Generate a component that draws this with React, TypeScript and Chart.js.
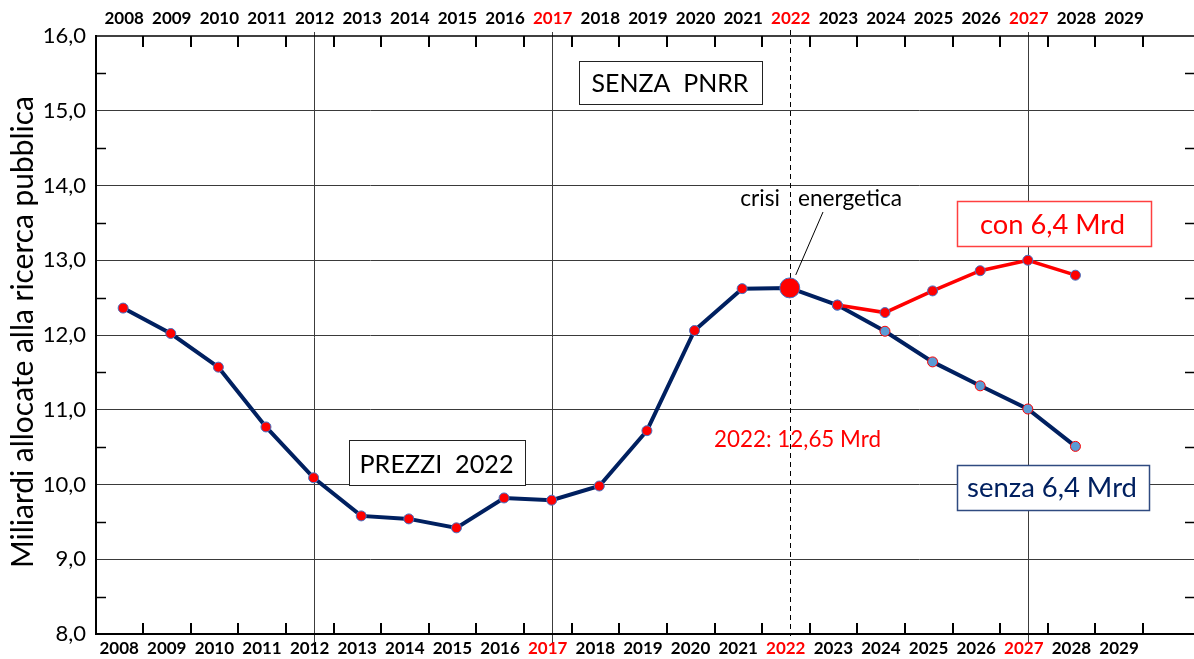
import React, { useEffect, useRef } from 'react';
import { Chart, registerables } from 'chart.js';

Chart.register(...registerables);

// ---------- data ----------
const YEARS = [2008, 2009, 2010, 2011, 2012, 2013, 2014, 2015, 2016, 2017, 2018, 2019, 2020, 2021, 2022, 2023, 2024, 2025, 2026, 2027, 2028];
const SENZA_6_4 = [12.36, 12.02, 11.57, 10.77, 10.09, 9.58, 9.54, 9.42, 9.82, 9.79, 9.98, 10.72, 12.06, 12.62, 12.63, 12.40, 12.05, 11.64, 11.32, 11.01, 10.51];
const CON_YEARS = [2023, 2024, 2025, 2026, 2027, 2028];
const CON_6_4 = [12.40, 12.30, 12.59, 12.86, 13.00, 12.80];
const AXIS_YEARS = [2008, 2009, 2010, 2011, 2012, 2013, 2014, 2015, 2016, 2017, 2018, 2019, 2020, 2021, 2022, 2023, 2024, 2025, 2026, 2027, 2028, 2029];
const RED_LABEL_YEARS = [2017, 2022, 2027];
const SOLID_LINE_YEARS = [2012, 2017, 2027];
const DASHED_LINE_YEAR = 2022;
const CRISIS_YEAR = 2022;
const PROJECTION_START = 2024;
const Y_MIN = 8;
const Y_MAX = 16;
const Y_TITLE = 'Miliardi allocate alla ricerca pubblica';

// ---------- style ----------
const NAVY = '#002060';
const RED = '#FF0000';
const MARKER_BLUE = '#4472C4';
const LIGHT_BLUE = '#5B9BD5';
const FONT = 'Lato, "Open Sans", sans-serif';
const X_MIN = 2007.43;
const X_MAX = 2030.49;

const BOXES = [
  { text: 'SENZA  PNRR', x0: 579, y0: 61, x1: 762, y1: 104, cx: 670, tw: 157, base: 91.5, color: '#000', border: '#222', bw: 1 },
  { text: 'PREZZI  2022', x0: 349, y0: 440, x1: 525, y1: 485, cx: 436.5, tw: 154, base: 472.5, color: '#000', border: '#222', bw: 1 },
  { text: 'con 6,4 Mrd', x0: 957, y0: 201, x1: 1151, y1: 246, cx: 1052.5, tw: 145, base: 233.5, color: RED, border: '#FF4040', bw: 1.5 },
  { text: 'senza 6,4 Mrd', x0: 957, y0: 465, x1: 1149, y1: 510, cx: 1052, tw: 170, base: 497, color: NAVY, border: '#2F4A80', bw: 1.5 },
];

function fitSize(ctx: CanvasRenderingContext2D, text: string, width: number, weight = 'normal') {
  ctx.font = `${weight} 100px ${FONT}`;
  return (100 * width) / ctx.measureText(text).width;
}

const tickColor = (c: any) => (RED_LABEL_YEARS.includes(c.tick?.value) ? RED : '#000');

const decor = {
  id: 'decor',
  beforeDatasetsDraw(chart: any) {
    const { ctx, chartArea: a, scales } = chart;
    const x = scales.x;
    const y = scales.y;
    const line = (x0: number, y0: number, x1: number, y1: number) => {
      ctx.beginPath();
      ctx.moveTo(x0, y0);
      ctx.lineTo(x1, y1);
      ctx.stroke();
    };
    ctx.save();
    // vertical reference lines
    ctx.strokeStyle = '#3c3c3c';
    ctx.lineWidth = 1;
    SOLID_LINE_YEARS.forEach((yr) => {
      const px = Math.round(x.getPixelForValue(yr)) + 0.5;
      line(px, a.top - 4, px, a.bottom + 9);
    });
    ctx.strokeStyle = '#000';
    ctx.setLineDash([5, 4]);
    const dx = Math.round(x.getPixelForValue(DASHED_LINE_YEAR)) + 0.5;
    line(dx, a.top - 6, dx, a.bottom + 2);
    ctx.setLineDash([]);
    // minor ticks on left / right at half units
    ctx.strokeStyle = '#000';
    ctx.lineWidth = 1.5;
    for (let v = Y_MIN + 0.5; v < Y_MAX; v += 1) {
      const py = Math.round(y.getPixelForValue(v)) + 0.5;
      line(a.left, py, a.left + 10, py);
      line(a.right - 9, py, a.right, py);
    }
    // category ticks on top / bottom
    ctx.lineWidth = 2;
    AXIS_YEARS.forEach((yr) => {
      const px = Math.round(x.getPixelForValue(yr + 0.42));
      line(px, a.top, px, a.top + 11);
      line(px, a.bottom - 11, px, a.bottom);
    });
    // frame
    ctx.lineWidth = 2;
    line(a.left, a.top - 1, a.left, a.bottom + 1);
    line(a.left - 1, a.bottom, a.right, a.bottom);
    ctx.lineWidth = 1.5;
    line(a.left - 1, a.top, a.right, a.top);
    ctx.restore();
  },
  afterDatasetsDraw(chart: any) {
    const { ctx, scales } = chart;
    const x = scales.x;
    const y = scales.y;
    ctx.save();
    // boxes
    BOXES.forEach((b) => {
      ctx.fillStyle = '#fff';
      ctx.fillRect(b.x0, b.y0, b.x1 - b.x0, b.y1 - b.y0);
      ctx.strokeStyle = b.border;
      ctx.lineWidth = b.bw;
      ctx.strokeRect(b.x0 + 0.5, b.y0 + 0.5, b.x1 - b.x0, b.y1 - b.y0);
      const size = fitSize(ctx, b.text, b.tw);
      ctx.font = `normal ${size}px ${FONT}`;
      ctx.fillStyle = b.color;
      ctx.textAlign = 'center';
      ctx.textBaseline = 'alphabetic';
      ctx.fillText(b.text, b.cx, b.base);
    });
    // crisis label
    const size = fitSize(ctx, 'energetica', 104);
    ctx.font = `normal ${size}px ${FONT}`;
    ctx.fillStyle = '#000';
    ctx.textBaseline = 'alphabetic';
    ctx.textAlign = 'right';
    ctx.fillText('crisi', 780, 206);
    ctx.textAlign = 'left';
    ctx.fillText('energetica', 798, 206);
    // leader line
    const px = x.getPixelForValue(CRISIS_YEAR);
    const py = y.getPixelForValue(SENZA_6_4[YEARS.indexOf(CRISIS_YEAR)]);
    ctx.strokeStyle = '#000';
    ctx.lineWidth = 1;
    ctx.beginPath();
    ctx.moveTo(823, 212);
    ctx.lineTo(px + 6, py - 13);
    ctx.stroke();
    // value label
    const vs = fitSize(ctx, '2022: 12,65 Mrd', 167);
    ctx.font = `normal ${vs}px ${FONT}`;
    ctx.fillStyle = RED;
    ctx.textAlign = 'center';
    ctx.fillText('2022: 12,65 Mrd', 797.5, 446.5);
    // y title
    const ts = fitSize(ctx, Y_TITLE, 472);
    ctx.font = `normal ${ts}px ${FONT}`;
    ctx.fillStyle = '#000';
    ctx.translate(33, 332);
    ctx.rotate(-Math.PI / 2);
    ctx.textAlign = 'center';
    ctx.textBaseline = 'alphabetic';
    ctx.fillText(Y_TITLE, 0, 0);
    ctx.restore();
  },
};

export default function App() {
  const ref = useRef<HTMLCanvasElement>(null);
  useEffect(() => {
    const canvas = ref.current!;
    const chart = new Chart(canvas, {
      type: 'line',
      data: {
        datasets: [
          {
            label: 'con 6,4 Mrd',
            data: CON_YEARS.map((yr, i) => ({ x: yr, y: CON_6_4[i] })),
            borderColor: RED,
            borderWidth: 3.5,
            tension: 0,
            pointRadius: 5,
            pointBackgroundColor: RED,
            pointBorderColor: MARKER_BLUE,
            pointBorderWidth: 1,
            order: 1,
          },
          {
            label: 'senza 6,4 Mrd',
            data: YEARS.map((yr, i) => ({ x: yr, y: SENZA_6_4[i] })),
            borderColor: NAVY,
            borderWidth: 4,
            tension: 0,
            pointRadius: (c: any) => (YEARS[c.dataIndex] === CRISIS_YEAR ? 10 : 5),
            pointBackgroundColor: (c: any) => (YEARS[c.dataIndex] >= PROJECTION_START ? LIGHT_BLUE : RED),
            pointBorderColor: (c: any) => (YEARS[c.dataIndex] >= PROJECTION_START ? RED : MARKER_BLUE),
            pointBorderWidth: 1,
            order: 2,
          },
        ],
      },
      options: {
        responsive: false,
        animation: false,
        devicePixelRatio: 1,
        layout: { padding: 0 },
        plugins: { legend: { display: false }, tooltip: { enabled: false } },
        scales: {
          x: {
            type: 'linear',
            position: 'bottom',
            min: X_MIN,
            max: X_MAX,
            afterBuildTicks: (s: any) => {
              s.ticks = AXIS_YEARS.map((v) => ({ value: v }));
            },
            afterFit: (s: any) => {
              s.height = 25;
            },
            grid: { display: false, drawTicks: false },
            border: { display: false },
            ticks: {
              autoSkip: false,
              maxRotation: 0,
              minRotation: 0,
              padding: 4,
              labelOffset: -4,
              color: tickColor,
              font: { family: FONT, size: 17, weight: 'bold' },
              callback: (v: any) => String(v),
            },
          },
          xTop: {
            type: 'linear',
            axis: 'x',
            position: 'top',
            min: X_MIN,
            max: X_MAX,
            afterBuildTicks: (s: any) => {
              s.ticks = AXIS_YEARS.map((v) => ({ value: v }));
            },
            afterFit: (s: any) => {
              s.height = 36;
            },
            grid: { display: false, drawTicks: false },
            border: { display: false },
            ticks: {
              autoSkip: false,
              maxRotation: 0,
              minRotation: 0,
              padding: 7,
              labelOffset: 1,
              color: tickColor,
              font: { family: FONT, size: 17, weight: 'bold' },
              callback: (v: any) => String(v),
            },
          },
          y: {
            type: 'linear',
            min: Y_MIN,
            max: Y_MAX,
            afterFit: (s: any) => {
              s.width = 96;
            },
            grid: {
              drawTicks: false,
              lineWidth: 1,
              color: (c: any) => (c.tick && (c.tick.value === Y_MIN || c.tick.value === Y_MAX) ? 'rgba(0,0,0,0)' : '#3a3a3a'),
            },
            border: { display: false },
            ticks: {
              stepSize: 1,
              padding: 10,
              color: '#000',
              font: { family: FONT, size: 22 },
              callback: (v: any) => Number(v).toFixed(1).replace('.', ','),
            },
          },
        },
      },
      plugins: [decor],
    } as any);
    return () => chart.destroy();
  }, []);
  return (
    <div style={{ position: 'fixed', left: 0, top: 0, width: 1194, height: 659, overflow: 'hidden', background: '#fff' }}>
      <canvas ref={ref} width={1200} height={659} style={{ display: 'block', width: 1200, height: 659 }} />
    </div>
  );
}
